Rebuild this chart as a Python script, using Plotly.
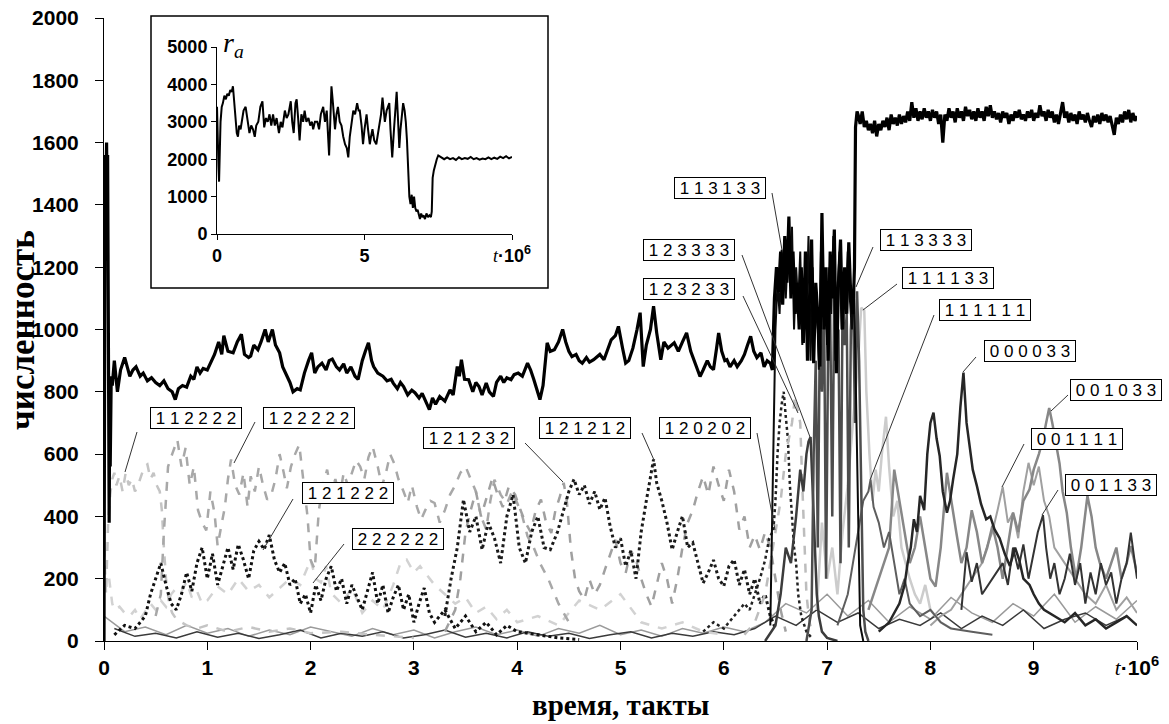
import plotly.graph_objects as go

# ---------------- data ----------------
main_t = [0.00,0.005,0.01,0.015,0.02,0.025,0.03,0.035,0.04,0.045,0.05,0.055,0.06,0.07,0.08,0.10,0.13,0.16,0.20,0.225,0.25,0.28,0.31,0.35,0.38,0.42,0.46,0.50,0.54,0.58,0.62,0.66,0.69,0.72,0.76,0.80,0.84,0.87,0.90,0.93,0.96,1.00,1.03,1.07,1.11,1.14,1.16,1.20,1.25,1.29,1.33,1.36,1.40,1.42,1.45,1.49,1.52,1.56,1.59,1.63,1.66,1.70,1.73,1.76,1.80,1.83,1.87,1.90,1.94,1.98,2.01,2.04,2.07,2.11,2.15,2.18,2.21,2.25,2.28,2.32,2.35,2.39,2.43,2.46,2.50,2.53,2.56,2.59,2.61,2.65,2.70,2.74,2.78,2.80,2.84,2.87,2.90,2.94,2.98,3.01,3.05,3.08,3.11,3.15,3.18,3.21,3.25,3.30,3.35,3.38,3.42,3.44,3.46,3.49,3.53,3.57,3.60,3.63,3.66,3.70,3.73,3.77,3.80,3.84,3.87,3.90,3.94,3.97,4.01,4.05,4.10,4.13,4.16,4.18,4.22,4.25,4.29,4.32,4.36,4.40,4.44,4.47,4.50,4.53,4.57,4.60,4.63,4.67,4.70,4.74,4.77,4.80,4.84,4.88,4.91,4.95,4.98,5.02,5.05,5.08,5.12,5.16,5.19,5.22,5.25,5.29,5.32,5.35,5.39,5.42,5.46,5.52,5.56,5.60,5.64,5.68,5.71,5.74,5.77,5.80,5.84,5.87,5.90,5.93,5.95,5.98,6.01,6.03,6.06,6.10,6.13,6.17,6.20,6.23,6.26,6.29,6.32,6.36,6.39,6.42,6.45,6.47,6.49,6.51,6.53,6.55,6.57,6.59,6.61,6.63,6.65,6.67,6.69,6.71,6.73,6.75,6.77,6.79,6.81,6.83,6.85,6.87,6.89,6.91,6.93,6.95,6.97,6.99,7.01,7.03,7.05,7.07,7.09,7.11,7.13,7.15,7.17,7.19,7.21,7.23,7.25,7.265,7.275,7.29,
          7.30,7.32,7.34,7.36,7.38,7.40,7.42,7.44,7.46,7.48,7.50,7.52,7.54,7.56,7.58,7.60,7.62,7.64,7.66,7.68,7.70,7.72,7.74,7.76,7.78,7.80,7.82,7.84,7.86,7.88,7.90,7.92,7.94,7.96,7.98,8.00,8.02,8.04,8.06,8.08,8.10,8.12,8.14,8.16,8.18,8.20,8.22,8.24,8.26,8.28,8.30,8.32,8.34,8.36,8.38,8.40,8.42,8.44,8.46,8.48,8.50,8.52,8.54,8.56,8.58,8.60,8.62,8.64,8.66,8.68,8.70,8.72,8.74,8.76,8.78,8.80,8.82,8.84,8.86,8.88,8.90,8.92,8.94,8.96,8.98,9.00,9.02,9.04,9.06,9.08,9.10,9.12,9.14,9.16,9.18,9.20,9.22,9.24,9.26,9.28,9.30,9.32,9.34,9.36,9.38,9.40,9.42,9.44,9.46,9.48,9.50,9.52,9.54,9.56,9.58,9.60,9.62,9.64,9.66,9.68,9.70,9.72,9.74,9.76,9.78,9.80,9.82,9.84,9.86,9.88,9.90,9.92,9.94,9.96,9.98,10.00]
main_v = [0,1100,1480,1560,1470,1600,1400,1560,980,720,380,760,560,850,820,900,800,870,910,880,850,870,880,850,860,835,845,830,820,835,810,800,775,810,820,815,850,840,880,860,875,870,890,920,960,920,980,930,925,960,985,920,910,915,950,935,960,1000,960,1000,950,925,880,860,830,800,810,806,860,900,925,860,880,892,870,900,905,880,870,890,860,880,850,840,900,930,957,900,881,860,850,835,840,828,810,830,817,790,805,797,780,795,775,743,780,760,785,770,806,790,881,850,903,840,839,800,830,817,790,828,800,785,830,850,830,845,839,855,860,850,892,870,840,817,775,820,957,930,935,960,1000,960,930,913,920,900,892,910,895,903,910,920,903,940,967,980,1010,940,892,900,940,1000,1054,881,950,1000,1075,990,903,960,940,957,930,960,989,930,903,880,849,870,900,880,871,940,989,930,900,903,880,900,881,900,920,950,978,930,910,925,880,900,892,870,1100,1200,1120,1250,1080,1300,1150,1363,1100,1250,1050,1150,1000,1200,957,1250,900,1100,1289,892,1150,1050,881,1374,1000,1200,900,1250,1100,1321,860,1150,1289,1000,1200,1050,1280,1100,1050,1200,1650,1700,
          1690,1660,1700,1650,1670,1640,1660,1630,1670,1620,1660,1640,1670,1650,1680,1640,1690,1660,1680,1655,1690,1660,1685,1665,1700,1670,1730,1680,1710,1670,1700,1675,1710,1680,1700,1670,1705,1680,1700,1660,1690,1600,1690,1670,1710,1680,1700,1665,1710,1680,1700,1670,1715,1685,1705,1675,1700,1670,1710,1680,1700,1670,1715,1685,1720,1680,1700,1675,1695,1665,1700,1680,1695,1660,1690,1670,1700,1680,1705,1675,1690,1670,1700,1680,1705,1670,1695,1680,1720,1685,1700,1670,1705,1680,1700,1665,1690,1660,1700,1730,1680,1700,1665,1695,1670,1690,1660,1700,1675,1690,1665,1695,1670,1650,1685,1665,1690,1660,1695,1670,1690,1665,1685,1655,1625,1680,1660,1690,1665,1700,1675,1705,1665,1695,1670,1685]

inset_t = [0.0,0.02,0.05,0.07,0.09,0.12,0.16,0.2,0.25,0.3,0.35,0.4,0.45,0.5,0.54,0.58,0.63,0.67,0.71,0.75,0.8,0.85,0.9,0.97,1.03,1.1,1.16,1.22,1.28,1.33,1.4,1.47,1.54,1.6,1.66,1.72,1.78,1.84,1.9,1.96,2.02,2.1,2.16,2.22,2.3,2.36,2.42,2.5,2.55,2.6,2.66,2.7,2.75,2.8,2.86,2.92,2.97,3.03,3.1,3.16,3.22,3.26,3.32,3.4,3.46,3.52,3.6,3.66,3.72,3.8,3.84,3.88,3.93,4.0,4.05,4.1,4.16,4.22,4.28,4.34,4.4,4.45,4.5,4.56,4.62,4.68,4.75,4.8,4.84,4.9,4.95,5.0,5.07,5.12,5.18,5.22,5.27,5.33,5.4,5.46,5.52,5.56,5.61,5.65,5.69,5.75,5.8,5.84,5.88,5.94,6.0,6.05,6.09,6.14,6.18,6.22,6.27,6.31,6.36,6.4,6.44,6.48,6.52,6.56,6.6,6.64,6.68,6.72,6.76,6.8,6.84,6.88,6.92,6.96,7.0,7.05,7.1,7.15,7.2,7.25,7.28,7.31,7.35,7.4,7.45,7.5,7.6,7.7,7.8,7.9,8.0,8.1,8.2,8.3,8.4,8.5,8.6,8.7,8.8,8.9,9.0,9.1,9.2,9.3,9.4,9.5,9.6,9.7,9.8,9.9,10.0]
inset_v = [3400,2500,1800,1400,2000,3000,3400,3500,3700,3600,3750,3700,3850,3800,3950,3500,3000,2700,2600,2900,2800,3100,3300,3400,3000,2700,2900,2800,2600,2900,3000,3400,3550,2850,3100,3000,3200,2900,3200,2900,3100,2700,3000,2850,3300,3100,3200,3550,3000,2700,3500,3600,3100,2500,3200,3000,3300,3000,3100,2900,3000,2800,3000,3000,2800,3200,3400,3000,3300,2100,3000,3950,3500,2800,3200,3400,3000,2900,2600,2400,2300,2050,2600,3000,3300,3200,3500,3300,3300,2900,2400,2800,3200,2800,2400,2600,2800,2500,2400,2700,3000,3200,3650,3300,3000,3300,3400,3500,2800,2050,2800,3400,3800,3000,2300,2800,3300,3500,3300,3000,2500,1700,1000,800,1050,700,1000,700,600,650,500,400,550,450,500,400,550,450,500,450,600,1500,1700,1900,2000,2100,2050,2000,2050,2000,2030,1980,2050,2000,2030,2010,2060,2000,2030,1990,2020,2000,2050,2000,2040,2010,2070,2030,2080,2020,2060]

s112222_t = [0.0,0.02,0.04,0.06,0.08,0.10,0.12,0.15,0.18,0.21,0.24,0.27,0.30,0.33,0.36,0.39,0.42,0.45,0.48,0.51,0.54,0.56,0.58,0.60,0.63,0.66,0.70,0.75,0.8,0.9,1.0,1.2,1.4,1.6,1.8,2.0,2.3,2.6,3.0]
s112222_v = [300,150,380,470,520,540,500,530,480,540,500,520,480,500,530,560,567,520,540,500,480,420,300,200,120,90,70,60,50,40,50,30,45,30,40,25,30,20,10]

s122222_t = [0.5,0.55,0.58,0.62,0.66,0.71,0.75,0.79,0.83,0.87,0.91,0.95,0.99,1.03,1.07,1.1,1.13,1.17,1.2,1.23,1.27,1.31,1.35,1.39,1.42,1.46,1.5,1.54,1.58,1.62,1.66,1.7,1.74,1.77,1.81,1.85,1.89,1.93,1.97,2.0,2.04,2.08,2.12,2.16,2.2,2.24,2.28,2.32,2.36,2.4,2.44,2.48,2.52,2.56,2.6,2.65,2.69,2.73,2.77,2.81,2.85,2.9,2.94,2.98,3.03,3.07,3.11,3.16,3.2,3.25,3.3,3.35,3.4,3.45,3.5,3.55,3.6,3.65,3.7,3.74,3.78,3.84,3.9,3.95,4.0,4.05,4.1,4.16,4.22,4.3,4.4,4.5]
s122222_v = [80,150,350,560,600,646,560,620,500,560,420,380,355,480,410,305,360,430,520,583,500,470,540,430,529,480,560,500,454,470,520,600,540,490,560,600,630,520,400,260,230,420,500,550,480,520,460,540,500,540,580,560,520,590,625,560,497,540,600,570,520,480,443,500,430,390,420,450,443,380,420,470,500,540,560,520,480,400,358,450,518,470,440,480,443,400,336,300,250,200,120,60]

s222222_t = [0.05,0.08,0.1,0.15,0.2,0.25,0.3,0.35,0.4,0.45,0.5,0.55,0.6,0.65,0.7,0.75,0.8,0.85,0.9,0.95,1.0,1.1,1.2,1.3,1.4,1.5,1.6,1.7,1.8,1.9,1.95,2.0,2.05,2.1,2.15,2.2,2.3,2.4,2.5,2.6,2.7,2.8,2.87,2.93,3.0,3.06,3.13,3.2,3.3,3.4,3.5,3.6,3.7,3.8,3.9,4.0,4.2,4.4,4.6,4.8,5.0,5.2,5.4,5.6,5.8,6.0]
s222222_v = [200,120,100,110,90,80,100,70,95,120,100,130,110,150,170,160,190,140,160,120,130,175,150,200,160,180,140,170,200,180,220,260,200,188,240,154,120,170,90,130,100,180,250,261,220,240,210,180,150,120,140,90,110,70,100,60,80,50,130,100,150,60,40,60,30,20]

s121222_t = [0.1,0.2,0.3,0.4,0.45,0.5,0.55,0.6,0.65,0.7,0.75,0.8,0.85,0.9,0.95,1.0,1.05,1.1,1.15,1.2,1.25,1.3,1.35,1.4,1.45,1.5,1.55,1.6,1.65,1.7,1.75,1.8,1.85,1.9,1.95,2.0,2.05,2.1,2.15,2.2,2.25,2.3,2.35,2.4,2.45,2.5,2.55,2.6,2.65,2.7,2.75,2.8,2.85,2.9,2.95,3.0,3.05,3.1,3.15,3.2,3.3,3.4,3.5,3.6,3.7,3.8,3.9,4.0,4.2,4.4,4.6]
s121222_v = [20,50,40,80,150,200,250,180,120,100,150,220,160,250,300,200,280,180,240,300,230,310,260,200,290,320,294,340,260,220,250,180,200,120,150,90,180,130,200,240,160,200,120,180,140,100,160,220,120,180,90,140,180,100,150,60,120,170,90,60,100,40,80,30,60,20,50,30,20,10,5]

s121232_t = [3.3,3.4,3.45,3.5,3.55,3.6,3.65,3.7,3.76,3.81,3.86,3.92,3.98,4.03,4.08,4.13,4.18,4.23,4.28,4.33,4.37,4.41,4.45,4.48,4.52,4.56,4.6,4.65,4.7,4.75,4.8,4.85,4.9,4.95,5.0,5.05,5.1,5.15,5.2,5.25,5.3,5.35,5.4,5.45,5.5,5.55,5.6,5.65,5.7,5.75,5.8,5.85,5.9,5.95,6.0,6.05,6.1,6.15,6.2,6.25,6.3,6.35,6.4,6.45,6.5,6.55,6.6]
s121232_v = [30,100,200,350,420,480,400,460,523,470,430,497,470,422,380,350,420,454,380,347,420,460,508,450,293,200,160,133,197,150,180,230,280,325,250,218,290,260,200,150,111,180,250,200,120,200,300,380,420,480,529,470,560,500,450,550,480,358,400,300,340,293,350,300,200,100,30]

s121212_t = [3.3,3.36,3.42,3.48,3.54,3.6,3.66,3.72,3.78,3.84,3.9,3.96,4.02,4.08,4.14,4.2,4.26,4.32,4.39,4.45,4.5,4.55,4.6,4.65,4.7,4.75,4.8,4.85,4.9,4.95,5.0,5.05,5.1,5.15,5.2,5.25,5.3,5.32,5.35,5.4,5.45,5.5,5.55,5.6,5.65,5.7,5.75,5.8,5.85,5.9,5.95,6.0,6.05,6.1,6.15,6.2,6.25,6.3,6.35,6.4,6.45,6.5]
s121212_v = [80,200,300,454,350,400,293,380,330,250,400,470,300,250,350,400,300,293,350,420,480,519,470,500,440,480,422,460,368,300,330,240,290,200,350,450,540,583,508,450,380,293,350,401,300,315,250,186,220,260,200,176,240,261,180,230,150,200,120,150,80,40]

s120202_t = [5.8,5.9,6.0,6.1,6.2,6.25,6.3,6.35,6.4,6.44,6.48,6.5,6.52,6.54,6.56,6.58,6.6,6.62,6.64,6.66,6.68,6.7,6.72,6.75,6.8,6.85]
s120202_v = [30,60,40,80,120,100,150,200,260,330,356,450,600,700,760,800,720,650,500,400,300,250,150,80,30,10]

s123233_t = [6.2,6.3,6.4,6.45,6.5,6.55,6.6,6.63,6.66,6.69,6.72,6.74,6.76,6.78,6.8,6.83,6.86]
s123233_v = [20,60,150,250,350,450,600,650,700,785,730,700,500,300,150,60,20]

s123333_t = [6.4,6.5,6.55,6.6,6.65,6.7,6.74,6.77,6.8,6.82,6.84,6.86,6.88,6.9,6.92,6.95,7.0,7.1]
s123333_v = [0,50,150,300,250,400,550,480,600,640,655,500,300,150,80,30,10,0]

s113133_t = [6.45,6.48,6.5,6.52,6.54,6.56,6.58,6.6,6.62,6.64,6.66,6.68,6.7,6.72,6.74,6.76,6.78,6.8,6.82,6.84,6.86,6.88,6.9,6.92,6.94,6.96,6.98,7.0,7.02,7.04,7.06,7.08,7.1,7.12,7.14,7.16,7.18,7.2,7.22,7.24,7.26,7.28,7.3,7.32,7.35]
s113133_v = [50,600,1000,1150,1050,1256,1180,1100,1250,1150,1330,1000,1200,1080,1250,950,1150,1050,1300,900,1200,980,1100,871,1250,1050,1150,950,1200,1050,1300,900,1100,1250,1000,1150,1050,1250,1100,1000,1150,800,400,50,0]

s113333_t = [6.8,6.85,6.87,6.89,6.91,6.93,6.95,6.97,6.99,7.01,7.03,7.05,7.07,7.09,7.11,7.13,7.15,7.17,7.19,7.21,7.23,7.25,7.27,7.29,7.31,7.33,7.35,7.37,7.4]
s113333_v = [0,100,600,900,300,1000,800,1100,200,950,1050,400,1150,900,1000,250,1100,950,1050,300,1000,1120,700,1123,900,500,100,30,0]

s111133_t = [6.9,6.95,7.0,7.05,7.1,7.15,7.2,7.25,7.3,7.33,7.36,7.38,7.41,7.44,7.47,7.5,7.53,7.57,7.6,7.64,7.68,7.72,7.76,7.8,7.85,7.9,7.95,8.0,8.1,8.2]
s111133_v = [100,380,200,300,150,350,500,700,900,1070,1060,800,600,450,550,480,600,720,560,400,450,300,250,200,150,120,180,100,60,40]

s111111_t = [7.1,7.2,7.25,7.3,7.35,7.4,7.42,7.45,7.5,7.55,7.6,7.65,7.7,7.75,7.8,7.9,8.0,8.1,8.2,8.4,8.6]
s111111_v = [50,150,250,350,450,480,517,430,380,300,350,250,150,200,120,80,100,60,40,30,20]

s000033_t = [7.5,7.6,7.7,7.75,7.78,7.81,7.84,7.87,7.9,7.94,7.97,8.0,8.03,8.06,8.09,8.12,8.16,8.19,8.22,8.26,8.29,8.32,8.35,8.38,8.41,8.45,8.49,8.54,8.58,8.62,8.67,8.72,8.77,8.82,8.86,8.9,8.96,9.0,9.05,9.1,9.2,9.3,9.4,9.5,9.6,9.7,9.8,9.9,10.0]
s000033_v = [30,60,120,180,251,300,391,350,466,420,600,700,733,650,594,480,412,450,519,600,750,862,700,626,550,498,440,391,400,359,330,280,241,300,260,200,180,150,120,100,80,60,90,50,70,40,60,80,50]

s001033_t = [7.4,7.5,7.6,7.65,7.7,7.75,7.8,7.85,7.9,7.95,8.0,8.05,8.1,8.16,8.2,8.25,8.3,8.35,8.4,8.45,8.5,8.55,8.6,8.65,8.7,8.75,8.8,8.85,8.9,8.96,9.0,9.05,9.09,9.12,9.15,9.18,9.22,9.25,9.28,9.32,9.36,9.41,9.46,9.52,9.56,9.6,9.64,9.7,9.75,9.8,9.85,9.9,9.94,10.0]
s001033_v = [100,200,300,550,450,350,250,300,400,300,200,175,300,540,450,350,250,300,420,350,250,300,370,300,200,300,412,350,450,487,550,600,647,700,748,700,620,570,480,412,300,198,300,466,400,300,251,200,250,300,200,250,305,220]

s001111_t = [8.0,8.1,8.2,8.3,8.4,8.5,8.55,8.6,8.65,8.7,8.75,8.8,8.85,8.9,8.95,9.0,9.05,9.1,9.15,9.2,9.3,9.4,9.5,9.6,9.7,9.8,9.9,10.0]
s001111_v = [50,80,100,150,200,250,305,350,420,495,380,412,330,480,572,500,560,450,400,300,250,200,150,120,180,100,140,90]

s001133_t = [8.3,8.35,8.4,8.45,8.5,8.6,8.7,8.75,8.8,8.85,8.9,8.95,9.0,9.04,9.09,9.12,9.16,9.2,9.25,9.3,9.35,9.4,9.45,9.5,9.55,9.6,9.65,9.7,9.75,9.8,9.85,9.9,9.94,10.0]
s001133_v = [100,285,190,250,150,200,250,180,300,230,310,200,280,350,404,300,200,250,150,200,280,180,250,120,220,150,250,180,220,120,200,250,348,200]

bg1_t = [0.0,0.2,0.4,0.6,0.8,1.0,1.2,1.4,1.6,1.8,2.0,2.2,2.4,2.6,2.8,3.0,3.2,3.4,3.6,3.8,4.0,4.2,4.4,4.6,4.8,5.0,5.2,5.4,5.6,5.8,6.0,6.2,6.4,6.6,6.8,7.0,7.2,7.4,7.6,7.8,8.0,8.2,8.4,8.6,8.8,9.0,9.2,9.4,9.6,9.8,10.0]
bg1_v = [80,30,45,20,50,25,40,15,35,20,45,30,15,40,20,35,10,30,45,20,35,15,40,25,50,20,35,15,40,25,45,30,60,120,90,150,80,130,60,110,70,140,90,60,120,80,150,60,110,70,130]
bg2_t = [0.1,0.3,0.5,0.7,0.9,1.1,1.3,1.5,1.7,1.9,2.1,2.3,2.5,2.7,2.9,3.1,3.3,3.5,3.7,3.9,4.1,4.3,4.5,4.7,4.9,5.1,5.3,5.5,5.7,5.9,6.1,6.3,6.5,6.7,6.9,7.1,7.3,7.5,7.7,7.9,8.1,8.3,8.5,8.7,8.9,9.1,9.3,9.5,9.7,9.9]
bg2_v = [40,15,25,10,30,12,25,8,20,35,10,25,15,30,10,20,35,12,25,10,30,15,25,8,20,30,10,25,15,30,20,40,80,50,100,60,90,40,70,50,90,40,80,50,100,40,70,90,50,80]

x_ticks = [0,1,2,3,4,5,6,7,8,9,10]
y_ticks = [0,200,400,600,800,1000,1200,1400,1600,1800,2000]
inset_y_ticks = [0,1000,2000,3000,4000,5000]
inset_x_ticks = [0,5,10]
t_label = '<span style="font-family:Liberation Serif;font-weight:normal;font-style:italic">t</span>·10<sup>6</sup>'

labels = ["1 1 2 2 2 2","1 2 2 2 2 2","1 2 1 2 2 2","2 2 2 2 2 2","1 2 1 2 3 2","1 2 1 2 1 2",
          "1 2 0 2 0 2","1 1 3 1 3 3","1 2 3 3 3 3","1 2 3 2 3 3","1 1 3 3 3 3","1 1 1 1 3 3",
          "1 1 1 1 1 1","0 0 0 0 3 3","0 0 1 0 3 3","0 0 1 1 1 1","0 0 1 1 3 3"]

# ---------------- layout helpers (pixel positions of label boxes / pointers) ----------------
L, R, T, B = 104, 32, 18, 83
W, H = 1169, 724
PW, PH = W - L - R, H - T - B

def px2t(px):
    return (px - L) / PW * 10.0

def py2v(py):
    return (T + PH - py) / PH * 2000.0

def pxp(px):
    return (px - L) / PW

def pyp(py):
    return (T + PH - py) / PH

box_px = [(196,418),(309,418),(348,493),(398,539),(469,438),(585,428),(705,428),(720,188),(689,250),
          (689,289),(926,240),(948,278),(985,310),(1030,351),(1116,390),(1077,439),(1111,485)]
ptr_px = [((137,432),(125,472)),((255,422),(234,463)),((293,499),(263,550)),((344,544),(313,583)),
          ((525,443),(563,482)),((642,433),(654,460)),((757,433),(775,530)),((772,193),(782,250)),
          ((742,255),(810,437)),((743,296),(798,413)),((873,247),(856,287)),((897,284),(863,310)),
          ((934,315),(870,480)),((976,357),(963,372)),((1068,395),(1051,411)),((1024,444),(1002,487)),
          ((1058,490),(1042,515))]

fig = go.Figure()

def add(t, v, color, width, dash="solid", xa="x", ya="y"):
    fig.add_trace(go.Scatter(x=t, y=v, mode="lines", xaxis=xa, yaxis=ya,
                             line=dict(color=color, width=width, dash=dash),
                             hoverinfo="skip", showlegend=False))

add(bg1_t, bg1_v, "#9a9a9a", 1.5)
add(bg2_t, bg2_v, "#3a3a3a", 1.5)
add(s222222_t, s222222_v, "#d2d2d2", 2.5, "dash")
add(s112222_t, s112222_v, "#c4c4c4", 2.5, "dash")
add(s122222_t, s122222_v, "#a8a8a8", 2.5, "dash")
add(s121232_t, s121232_v, "#a0a0a0", 2.5, "dash")
add(s121222_t, s121222_v, "#111111", 3, "dot")
add(s121212_t, s121212_v, "#1a1a1a", 3, "dot")
add(s120202_t, s120202_v, "#222222", 2.5, "dot")
add(s123233_t, s123233_v, "#bdbdbd", 2.5, "dash")
add(s111133_t, s111133_v, "#cccccc", 2.5)
add(s001111_t, s001111_v, "#a0a0a0", 2)
add(s001033_t, s001033_v, "#878787", 2.5)
add(s111111_t, s111111_v, "#5e5e5e", 2)
add(s001133_t, s001133_v, "#333333", 2)
add(s000033_t, s000033_v, "#262626", 2.5)
add(s123333_t, s123333_v, "#3c3c3c", 2.5)
add(s113333_t, s113333_v, "#4d4d4d", 2.5)
add(s113133_t, s113133_v, "#0a0a0a", 2)
add(main_t, main_v, "#000000", 3.2)
add(inset_t, inset_v, "#000000", 2, xa="x2", ya="y2")

tick_font = dict(family="Liberation Sans, Arial", size=21, color="black", weight="bold")
inset_font = dict(family="Liberation Sans, Arial", size=18, color="black", weight="bold")
fig.update_layout(
    width=W, height=H, margin=dict(l=L, r=R, t=T, b=B, autoexpand=False),
    paper_bgcolor="white", plot_bgcolor="white",
    xaxis=dict(range=[0, 10], tickvals=x_ticks, automargin=False,
               ticktext=[str(v) for v in x_ticks[:-1]] + [t_label],
               showgrid=False, zeroline=False, showline=True, linecolor="black", linewidth=1,
               ticks="outside", ticklen=8, tickcolor="black", tickfont=tick_font),
    yaxis=dict(range=[0, 2000], tickvals=y_ticks, showgrid=False, zeroline=False, automargin=False,
               showline=True, linecolor="black", linewidth=1, ticks="outside", ticklen=8,
               tickcolor="black", tickfont=tick_font, ticklabelstandoff=12),
    xaxis2=dict(domain=[pxp(217), pxp(512)], anchor="y2", range=[0, 10], tickvals=inset_x_ticks,
                ticktext=["0", "5", t_label], showgrid=False, zeroline=False, showline=True,
                automargin=False, linecolor="black", linewidth=1, ticks="outside", ticklen=5,
                tickcolor="black", tickfont=inset_font),
    yaxis2=dict(domain=[pyp(234), pyp(47)], anchor="x2", range=[0, 5000], tickvals=inset_y_ticks,
                showgrid=False, zeroline=False, showline=True, linecolor="black", linewidth=1,
                automargin=False, ticks="outside", ticklen=5, tickcolor="black", tickfont=inset_font),
)

shapes = [dict(type="rect", xref="paper", yref="paper", x0=pxp(151), x1=pxp(548), y0=pyp(288), y1=pyp(16),
               line=dict(color="black", width=1.5), fillcolor="rgba(0,0,0,0)", layer="below")]
for (p0, p1) in ptr_px:
    shapes.append(dict(type="line", xref="x", yref="y", x0=px2t(p0[0]), y0=py2v(p0[1]),
                       x1=px2t(p1[0]), y1=py2v(p1[1]), line=dict(color="#333333", width=1)))
fig.update_layout(shapes=shapes)

ann = []
for txt, (cx, cy) in zip(labels, box_px):
    ann.append(dict(x=px2t(cx), y=py2v(cy), xref="x", yref="y", text=txt, showarrow=False,
                    font=dict(family="Liberation Sans, Arial", size=17, color="black"),
                    bgcolor="white", bordercolor="black", borderwidth=1, borderpad=1,
                    width=88, height=18, xanchor="center", yanchor="middle"))
ann.append(dict(x=pxp(22), y=pyp(330), xref="paper", yref="paper", text="<b>численность</b>",
                textangle=-90, showarrow=False, xanchor="center", yanchor="middle",
                font=dict(family="Liberation Serif, Times New Roman", size=35, color="black")))
ann.append(dict(x=0.5, y=pyp(705), xref="paper", yref="paper", text="<b>время, такты</b>",
                showarrow=False, xanchor="center", yanchor="middle",
                font=dict(family="Liberation Serif, Times New Roman", size=29, color="black")))
ann.append(dict(x=pxp(221), y=pyp(44), xref="paper", yref="paper", text="<i>r</i><sub><i>a</i></sub>",
                showarrow=False, xanchor="left", yanchor="middle",
                font=dict(family="Liberation Serif, Times New Roman", size=28, color="black")))
fig.update_layout(annotations=ann)

fig.write_html("out.html", config={"displayModeBar": False},
               post_script="document.body.style.margin='0';document.body.style.overflow='hidden';")
